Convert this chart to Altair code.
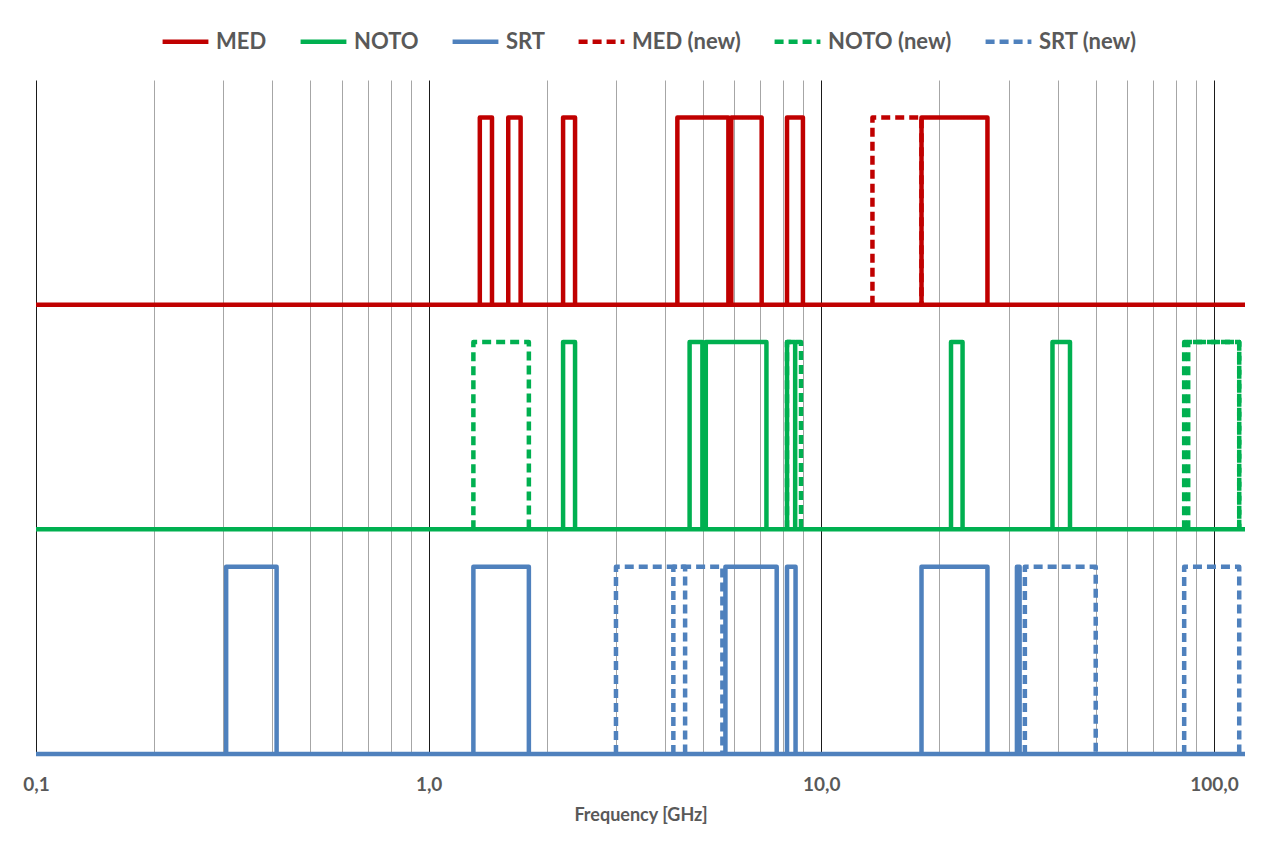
import altair as alt
import pandas as pd

# ---- data (GHz) ----
SERIES = ["MED", "NOTO", "SRT", "MED (new)", "NOTO (new)", "SRT (new)"]
COLORS = ["#C00000", "#00B050", "#4F81BD", "#C00000", "#00B050", "#4F81BD"]
BASELINES = [2.4, 1.2, 0.0, 2.4, 1.2, 0.0]

MED_LO = [1.35, 1.595, 2.2, 4.3, 5.9, 8.18, 18.0]
MED_HI = [1.45, 1.715, 2.36, 5.8, 7.05, 8.98, 26.5]
NOTO_LO = [2.2, 4.62, 5.08, 8.18, 21.4, 38.8]
NOTO_HI = [2.36, 4.98, 7.25, 8.58, 22.9, 43.0]
SRT_LO = [0.305, 1.3, 5.7, 8.18, 18.0, 31.5]
SRT_HI = [0.41, 1.8, 7.7, 8.6, 26.5, 32.0]
MED_NEW_LO = [13.5]
MED_NEW_HI = [18.0]
NOTO_NEW_LO = [1.3, 8.18, 84.0, 86.0]
NOTO_NEW_HI = [1.8, 8.88, 116.0, 116.0]
SRT_NEW_LO = [3.0, 4.2, 33.0, 84.0]
SRT_NEW_HI = [4.5, 5.6, 50.0, 116.0]

X_MIN, X_MAX = 0.1, 120.0
PULSE = 1.0
TICKS = [0.1, 0.2, 0.3, 0.4, 0.5, 0.6, 0.7, 0.8, 0.9,
         1, 2, 3, 4, 5, 6, 7, 8, 9,
         10, 20, 30, 40, 50, 60, 70, 80, 90, 100]
DECADES = [0.1, 1, 10, 100]

BANDS = [(MED_LO, MED_HI, True), (NOTO_LO, NOTO_HI, True), (SRT_LO, SRT_HI, True),
         (MED_NEW_LO, MED_NEW_HI, False), (NOTO_NEW_LO, NOTO_NEW_HI, False),
         (SRT_NEW_LO, SRT_NEW_HI, False)]

rows = []
for name, base, (lo, hi, full) in zip(SERIES, BASELINES, BANDS):
    if full:
        # one path: continuous baseline, then the pulses on top of it
        pts = [(X_MIN, base), (X_MAX, base)]
        for a, b in zip(lo, hi):
            pts += [(a, base), (a, base + PULSE), (b, base + PULSE), (b, base)]
        for i, (x, y) in enumerate(pts):
            rows.append({"series": name, "seg": f"{name}-0", "idx": i, "x": x, "y": y})
    else:
        # each new band is its own dashed outline
        for k, (a, b) in enumerate(zip(lo, hi)):
            pts = [(a, base), (a, base + PULSE), (b, base + PULSE), (b, base)]
            for i, (x, y) in enumerate(pts):
                rows.append({"series": name, "seg": f"{name}-{k}", "idx": i, "x": x, "y": y})
df = pd.DataFrame(rows)

FONT = "Lato"
is_decade = " || ".join(f"datum.value == {d}" for d in DECADES)

chart = alt.Chart(df).mark_line(strokeWidth=4.5, strokeJoin="round").encode(
    x=alt.X("x:Q",
            scale=alt.Scale(type="log", domain=[X_MIN, X_MAX], nice=False),
            axis=alt.Axis(values=TICKS, grid=True, ticks=False, domain=False,
                          gridColor={"condition": {"test": is_decade, "value": "#1a1a1a"},
                                     "value": "#A6A6A6"},
                          gridWidth=1,
                          labelExpr=f"({is_decade}) ? replace(format(datum.value, '.1f'), '.', ',') : ''",
                          labelFlush=False, labelPadding=21, labelFontSize=19,
                          labelFont=FONT, labelFontWeight="bold", labelColor="#595959",
                          title="Frequency [GHz]", titleFont=FONT, titleFontSize=18,
                          titleFontWeight="bold", titleColor="#595959", titlePadding=12)),
    y=alt.Y("y:Q", scale=alt.Scale(domain=[0, 3.6], nice=False), axis=None),
    color=alt.Color("series:N", sort=SERIES,
                    scale=alt.Scale(domain=SERIES, range=COLORS),
                    legend=alt.Legend(title=None, orient="none", legendX=124, legendY=-64,
                                      direction="horizontal", columns=6,
                                      symbolType="stroke", symbolSize=2100,
                                      symbolStrokeWidth=4.5, labelOffset=5,
                                      columnPadding=24, labelFont=FONT, labelFontSize=22,
                                      labelFontWeight="bold", labelColor="#595959")),
    strokeDash=alt.StrokeDash("series:N", sort=SERIES,
                              scale=alt.Scale(domain=SERIES,
                                              range=[[1, 0], [1, 0], [1, 0], [9, 5], [9, 5], [9, 5]]),
                              legend=alt.Legend(title=None)),
    detail="seg:N",
    order="idx:Q",
).properties(
    width=1209, height=674,
    padding={"left": 28, "top": 72, "right": 20, "bottom": 70},
    autosize=alt.AutoSizeParams(type="none"),
).configure_view(stroke=None)

chart.save("out.html", embed_options={"renderer": "svg", "actions": False})
